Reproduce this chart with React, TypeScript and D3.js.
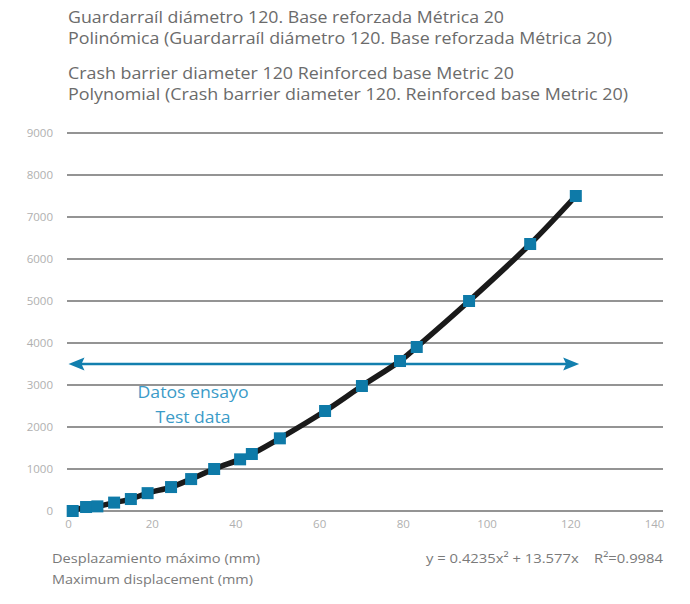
import React from "react";
import * as d3 from "d3";

const titleLines = [
  "Guardarraíl diámetro 120. Base reforzada Métrica 20",
  "Polinómica (Guardarraíl diámetro 120. Base reforzada Métrica 20)",
  "Crash barrier diameter 120 Reinforced base Metric 20",
  "Polynomial (Crash barrier diameter 120. Reinforced base Metric 20)",
];
const dispX = [1, 4.2, 6.9, 10.9, 14.9, 18.9, 24.5, 29.3, 34.8, 41, 43.8, 50.5, 61.3, 70.1, 79.2, 83.2, 95.7, 110.3, 121.2];
const forceY = [0, 95, 110, 200, 285, 425, 570, 760, 1000, 1230, 1357, 1730, 2381, 2976, 3571, 3905, 5000, 6357, 7500];
const xTicks = [0, 20, 40, 60, 80, 100, 120, 140];
const yTicks = [0, 1000, 2000, 3000, 4000, 5000, 6000, 7000, 8000, 9000];
const testDataRange = [0, 122];
const testDataLevel = 3500;
const testLabels = ["Datos ensayo", "Test data"];
const xLabels = ["Desplazamiento máximo (mm)", "Maximum displacement (mm)"];
const equation = "y = 0.4235x² + 13.577x    R²=0.9984";

export default function App() {
  const W = 690, H = 604;
  const x = d3.scaleLinear().domain([0, 140]).range([68.5, 654.5]);
  const y = d3.scaleLinear().domain([0, 9000]).range([511, 133]);
  const pts = dispX.map((d, i) => [x(d), y(forceY[i])] as [number, number]);
  const line = d3.line().curve(d3.curveCatmullRom.alpha(0.5))(pts) || "";
  const font = "'Open Sans', sans-serif";
  const ay = y(testDataLevel);
  const ax0 = x(testDataRange[0]);
  const ax1 = x(testDataRange[1]);
  const blue = "#127fae";
  const titleW = [436, 544, 446, 560];
  return (
    <svg width={W} height={H} style={{ position: "absolute", left: 0, top: 0, background: "#fff" }} fontFamily={font}>
      {titleLines.map((t, i) => (
        <text key={t} x={68} y={[23, 44, 79, 100][i]} fontSize={16.5} fill="#6b6b6b" textLength={titleW[i]} lengthAdjust="spacingAndGlyphs">{t}</text>
      ))}
      {yTicks.map((t) => (
        <g key={t}>
          <line x1={67} x2={663} y1={y(t)} y2={y(t)} stroke="#707070" strokeWidth={1.4} />
          <text x={53} y={y(t)} dy="0.35em" textAnchor="end" fontSize={11.5} fill="#b0b0b0">{t}</text>
        </g>
      ))}
      {xTicks.map((t) => (
        <text key={t} x={x(t)} y={528} textAnchor="middle" fontSize={11.5} fill="#b0b0b0">{t}</text>
      ))}
      <line x1={ax0 + 12} x2={ax1 - 12} y1={ay} y2={ay} stroke={blue} strokeWidth={2.5} />
      <path d={`M${ax0},${ay} L${ax0 + 16},${ay - 6.5} L${ax0 + 13},${ay} L${ax0 + 16},${ay + 6.5} Z`} fill={blue} />
      <path d={`M${ax1},${ay} L${ax1 - 16},${ay - 6.5} L${ax1 - 13},${ay} L${ax1 - 16},${ay + 6.5} Z`} fill={blue} />
      {testLabels.map((t, i) => (
        <text key={t} x={193} y={[398, 423][i]} textAnchor="middle" fontSize={16} fill="#3b9bc8" textLength={[111, 75][i]} lengthAdjust="spacingAndGlyphs">{t}</text>
      ))}
      <path d={line} fill="none" stroke="#1a1a1a" strokeWidth={5.5} strokeLinejoin="round" />
      {pts.map(([px, py], i) => (
        <rect key={i} x={px - 6} y={py - 6} width={12} height={12} fill="#0e7aa8" />
      ))}
      {xLabels.map((t, i) => (
        <text key={t} x={52} y={[563, 584][i]} fontSize={13.5} fill="#7a7a7a" textLength={[208, 201][i]} lengthAdjust="spacingAndGlyphs">{t}</text>
      ))}
      <text x={663} y={563} textAnchor="end" fontSize={13.5} fill="#7a7a7a" style={{ whiteSpace: "pre" }} textLength={237} lengthAdjust="spacingAndGlyphs">{equation}</text>
    </svg>
  );
}
